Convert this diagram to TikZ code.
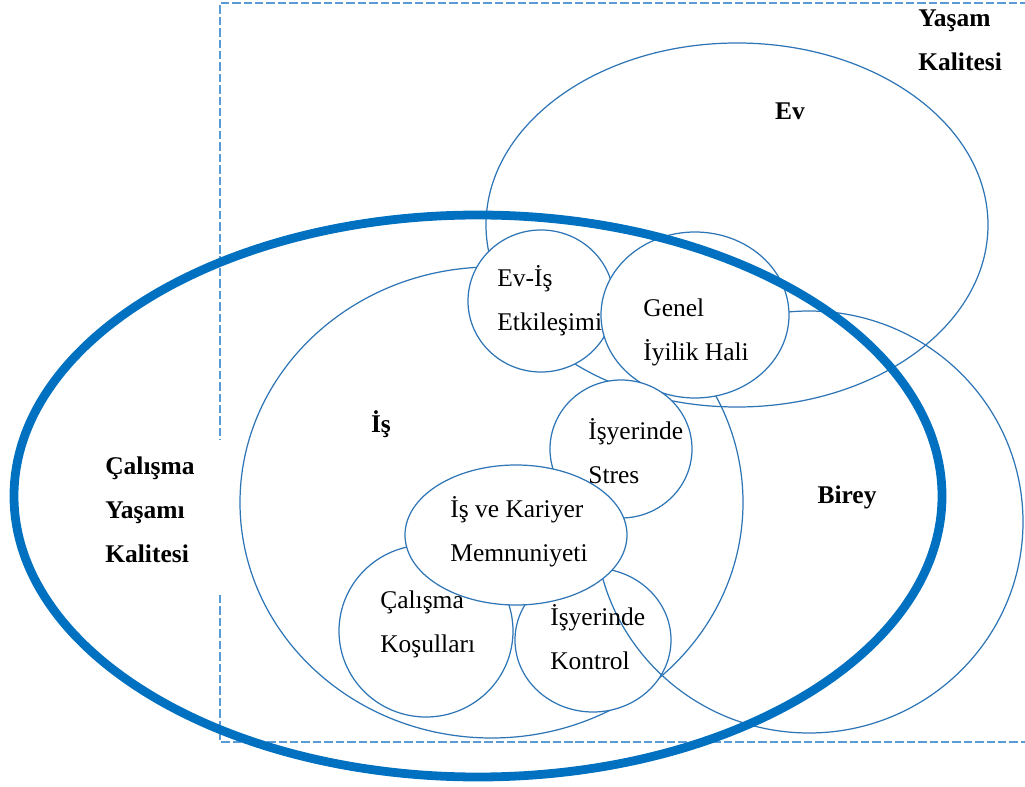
\documentclass[tikz,border=0pt]{standalone}
\usepackage{fontspec}
\setmainfont{Liberation Serif}
\definecolor{thickblue}{HTML}{0070C0}
\definecolor{thinblue}{HTML}{2E75B6}
\definecolor{frameblue}{HTML}{5B9BD5}
\begin{document}
\begin{tikzpicture}[x=0.02cm,y=-0.02cm,
  ring/.style={draw=thinblue,line width=0.7pt},
  bubble/.style={ring,fill=white},
  outer/.style={draw=thickblue,line width=5pt},
  frame/.style={draw=frameblue,line width=1pt,dash pattern=on 4.8pt off 1.7pt},
  txt/.style={font=\fontsize{14.5}{25}\selectfont,align=left,inner sep=0pt,anchor=west},
  head/.style={txt,font=\fontsize{14.5}{25}\selectfont\bfseries}]
\useasboundingbox (0,0) rectangle (1025,787);
\clip (0,0) rectangle (1025,787);

% dashed frame of the quality-of-life area (open to the right)
\draw[frame] (1040,3) -- (220,3) -- (220,440);
\draw[frame] (220,595) -- (220,742) -- (1040,742);

% large domains
\draw[ring] (737,225) ellipse [x radius=251, y radius=182];      % Ev
\draw[ring] (491.5,502.5) ellipse [x radius=251.5, y radius=235.5]; % Is

% lower bubbles
\draw[bubble] (426,631) ellipse [x radius=87, y radius=86];      % Calisma Kosullari
\draw[bubble] (593,640) ellipse [x radius=78, y radius=72];      % Isyerinde Kontrol

% individual domain
\draw[ring] (809,522) ellipse [x radius=214, y radius=211];      % Birey

% upper bubbles
\draw[bubble] (541,301) ellipse [x radius=73, y radius=71];      % Ev-Is
\draw[bubble] (695,315) ellipse [x radius=94, y radius=83];      % Genel Iyilik
\draw[bubble] (621,449) ellipse [x radius=71, y radius=69];      % Stres
\draw[bubble] (516,535) ellipse [x radius=111, y radius=70];     % Is ve Kariyer

% quality of working life
\draw[outer] (478,496) ellipse [x radius=464, y radius=281];

% labels
\node[head] (yk) at (918,40) {\strut Yaşam\\\strut Kalitesi};
\node[head,anchor=base] (ev) at (790,120) {Ev};
\node[head,anchor=base] (is) at (381,433) {İş};
\node[head,anchor=base] (birey) at (847,503) {Birey};
\node[head] (cyk) at (105,510) {\strut Çalışma\\\strut Yaşamı\\\strut Kalitesi};
\node[txt] (evis) at (497,300) {\strut Ev-İş\\\strut Etkileşimi};
\node[txt] (genel) at (643,330) {\strut Genel\\\strut İyilik Hali};
\node[txt] (stres) at (588,453) {\strut İşyerinde\\\strut Stres};
\node[txt] (kariyer) at (450,531) {\strut İş ve Kariyer\\\strut Memnuniyeti};
\node[txt] (kosul) at (380,622) {\strut Çalışma\\\strut Koşulları};
\node[txt] (kontrol) at (550,639) {\strut İşyerinde\\\strut Kontrol};
\end{tikzpicture}
\end{document}
